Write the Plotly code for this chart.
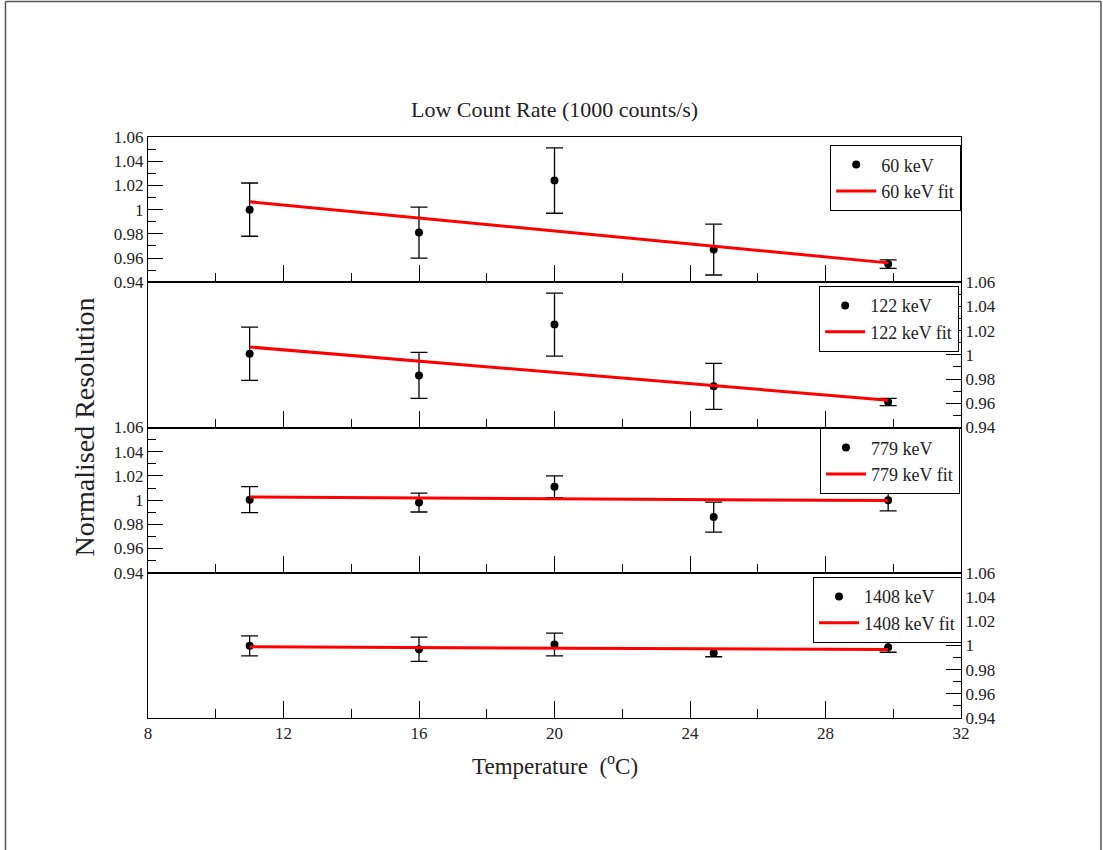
import plotly.graph_objects as go

# ---------------- data ----------------
temperature = [11.0, 16.0, 20.0, 24.7, 29.85]

energies = ["60 keV", "122 keV", "779 keV", "1408 keV"]

res_60 = [1.000, 0.981, 1.024, 0.967, 0.955]
err_60 = [0.022, 0.021, 0.027, 0.021, 0.0035]
fit_60 = [1.0065, 0.956]

res_122 = [1.001, 0.983, 1.025, 0.974, 0.961]
err_122 = [0.022, 0.019, 0.026, 0.019, 0.003]
fit_122 = [1.0065, 0.9626]

res_779 = [1.0004, 0.998, 1.011, 0.986, 1.000]
err_779 = [0.0107, 0.0078, 0.009, 0.0124, 0.0088]
fit_779 = [1.0026, 0.9996]

res_1408 = [0.9996, 0.9968, 1.0008, 0.9938, 0.9985]
err_1408 = [0.0082, 0.0100, 0.0094, 0.0032, 0.0042]
fit_1408 = [0.9988, 0.9965]

fit_temperature = [11.0, 29.85]

x_ticks = [8, 12, 16, 20, 24, 28, 32]
y_ticks = [0.94, 0.96, 0.98, 1.0, 1.02, 1.04, 1.06]
y_tick_text = ["0.94", "0.96", "0.98", "1", "1.02", "1.04", "1.06"]

series = [
    (res_60, err_60, fit_60),
    (res_122, err_122, fit_122),
    (res_779, err_779, fit_779),
    (res_1408, err_1408, fit_1408),
]

# ---------------- figure ----------------
FONT = "Liberation Serif, Times New Roman, serif"
W, H = 1103, 850
ML, MR, MT, MB = 148, 142, 137, 132
PW = W - ML - MR
PH = H - MT - MB

fig = go.Figure()

domains = [[0.75, 1.0], [0.5, 0.75], [0.25, 0.5], [0.0, 0.25]]
legend_pos = [(1.0, 0.986), (0.9975, 0.7435), (0.9985, 0.499), (1.001, 0.2427)]

for i, (label, (res, err, fit)) in enumerate(zip(energies, series)):
    n = i + 1
    xa = "x" if n == 1 else f"x{n}"
    ya = "y" if n == 1 else f"y{n}"
    lg = "legend" if n == 1 else f"legend{n}"
    fig.add_trace(go.Scatter(
        x=temperature, y=res, mode="markers", name=label,
        marker=dict(color="black", size=8, symbol="circle"),
        error_y=dict(type="data", array=err, visible=True, color="black",
                     thickness=1.3, width=8.5),
        xaxis=xa, yaxis=ya, legend=lg,
    ))
    fig.add_trace(go.Scatter(
        x=fit_temperature, y=fit, mode="lines", name=label + " fit",
        line=dict(color="#ff0000", width=3),
        xaxis=xa, yaxis=ya, legend=lg,
    ))

layout = dict(
    width=W, height=H,
    margin=dict(l=ML, r=MR, t=MT, b=MB, pad=0),
    paper_bgcolor="white", plot_bgcolor="white",
    font=dict(family=FONT, color="#222", size=14),
    showlegend=True,
)

for i in range(4):
    n = i + 1
    xk = "xaxis" if n == 1 else f"xaxis{n}"
    yk = "yaxis" if n == 1 else f"yaxis{n}"
    ya = "y" if n == 1 else f"y{n}"
    xa = "x" if n == 1 else f"x{n}"
    layout[xk] = dict(
        domain=[0, 1], range=[8, 32], anchor=ya,
        tickmode="array", tickvals=x_ticks,
        ticks="inside", ticklen=17, tickwidth=1.3, tickcolor="black",
        showline=True, linecolor="black", linewidth=1, mirror=True,
        showgrid=False, zeroline=False, showticklabels=(n == 4),
        tickfont=dict(family=FONT, size=17, color="#222"),
        minor=dict(ticks="inside", ticklen=9, tickwidth=1.3, tickcolor="black",
                   dtick=2, tick0=8, showgrid=False),
    )
    layout[yk] = dict(
        domain=domains[i], range=[0.94, 1.06], anchor=xa,
        side="left" if n in (1, 3) else "right",
        tickmode="array", tickvals=y_ticks, ticktext=y_tick_text,
        ticks="inside", ticklen=15, tickwidth=1.3, tickcolor="black",
        showline=True, linecolor="black", linewidth=1, mirror=True,
        showgrid=False, zeroline=False,
        tickfont=dict(family=FONT, size=17, color="#222"),
        minor=dict(ticks="inside", ticklen=8, tickwidth=1.3, tickcolor="black",
                   dtick=0.01, tick0=0.94, showgrid=False),
    )
    lk = "legend" if n == 1 else f"legend{n}"
    lx, ly = legend_pos[i]
    layout[lk] = dict(
        x=lx, y=ly, xanchor="right", yanchor="top",
        xref="paper", yref="paper",
        bgcolor="white", bordercolor="black", borderwidth=1.2,
        font=dict(family=FONT, size=18, color="#222"),
        itemwidth=40, tracegroupgap=0,
    )

fig.update_layout(**layout)

def px_x(p):
    return (p - ML) / PW

def px_y(p):
    return (H - MB - p) / PH

fig.add_annotation(
    text="Low Count Rate (1000 counts/s)", x=0.5, y=px_y(109),
    xref="paper", yref="paper", showarrow=False, xanchor="center", yanchor="middle",
    font=dict(family=FONT, size=22, color="#222"),
)
fig.add_annotation(
    text="Normalised Resolution", x=px_x(84), y=0.5, textangle=-90,
    xref="paper", yref="paper", showarrow=False, xanchor="center", yanchor="middle",
    font=dict(family=FONT, size=28, color="#222"),
)
fig.add_annotation(
    text="Temperature  (<sup>o</sup>C)", x=0.5, y=px_y(764),
    xref="paper", yref="paper", showarrow=False, xanchor="center", yanchor="middle",
    font=dict(family=FONT, size=23, color="#222"),
)

# outer frame (left, top, right edges)
for (x0, y0, x1, y1) in [(5.5, 1.5, 5.5, 860), (5.5, 1.5, 1101, 1.5), (1101, 1.5, 1101, 860)]:
    fig.add_shape(type="line", xref="paper", yref="paper",
                  x0=px_x(x0), y0=px_y(y0), x1=px_x(x1), y1=px_y(y1),
                  line=dict(color="#555", width=1.5))

fig.write_html("out.html")
